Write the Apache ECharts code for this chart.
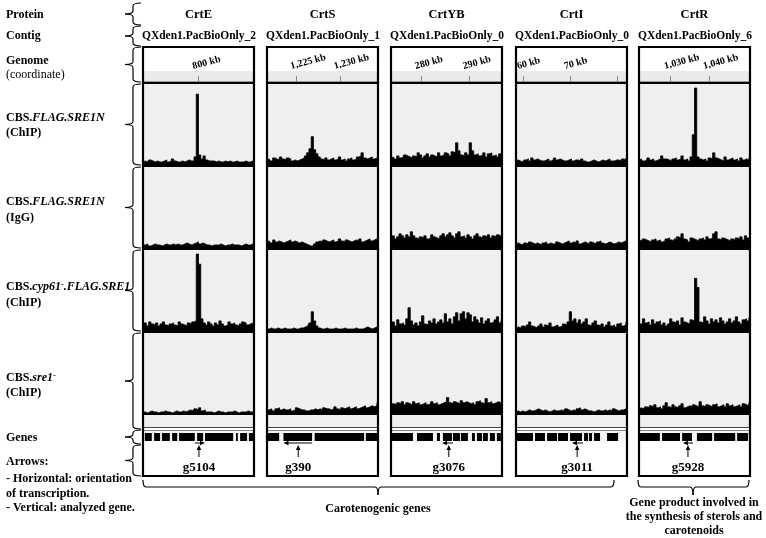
<!DOCTYPE html>
<html><head><meta charset="utf-8">
<script src="https://cdn.jsdelivr.net/npm/echarts@6/dist/echarts.min.js"></script>
<style>html,body{margin:0;padding:0;background:#fff}#c{width:766px;height:538px}</style>
</head><body><div id="c"></div><script>
// ---------------- DATA ----------------
const proteins = ['CrtE','CrtS','CrtYB','CrtI','CrtR'];
const contigs = ['QXden1.PacBioOnly_2','QXden1.PacBioOnly_1','QXden1.PacBioOnly_0','QXden1.PacBioOnly_0','QXden1.PacBioOnly_6'];
const genomeRangeKb = [[788,812],[1221.6,1234.4],[273.75,296.9],[58.5,82.1],[1022.05,1050.5]];
const genomeTicksKb = [[800],[1225,1230],[280,290],[60,70,80],[1030,1040]];
const genomeLabelsKb = [[800],[1225,1230],[280,290],[60,70],[1030,1040]];

// Row 1: CBS.FLAG.SRE1N (ChIP)
const sre1nChIP_CrtE = [3,4,3,5,4,3,4,3,3,4, 5,3,4,6,4,3,3,4,3,4, 5,4,4,8,70,10,6,9,5,4, 4,4,3,4,3,3,4,3,4,3, 3,4,3,3,3,4,3,3,4,4];
const sre1nChIP_CrtS = [5,6,4,7,6,5,8,6,5,7, 6,4,5,4,5,6,7,9,12,16, 28,15,11,8,6,5,7,5,6,7, 5,6,8,5,6,4,6,7,5,6, 8,9,12,7,6,7,8,6,7,8];
const sre1nChIP_CrtYB = [7,8,6,9,7,8,10,9,8,7, 9,8,12,10,7,9,11,8,10,9, 8,12,9,10,12,11,9,13,12,22, 14,10,9,12,10,22,14,10,11,9, 10,12,8,11,12,9,10,8,11,9];
const sre1nChIP_CrtI = [4,5,4,3,5,6,4,7,5,6, 5,4,4,5,6,4,5,7,5,6, 5,4,4,5,6,4,5,5,4,6, 4,3,3,4,5,4,3,4,5,4, 5,6,4,4,5,5,4,6,5,7];
const sre1nChIP_CrtR = [5,6,4,5,7,5,6,4,5,6, 9,6,6,5,4,6,7,5,6,9, 5,6,4,8,30,76,8,6,5,6, 4,7,6,12,7,6,5,4,8,5, 6,7,5,6,4,7,5,6,5,7];
// Row 2: CBS.FLAG.SRE1N (IgG)
const sre1nIgG_CrtE = [3,3,4,2,3,4,3,3,2,3, 4,3,3,4,3,4,3,3,4,5, 4,3,4,5,6,4,5,4,3,3, 2,3,3,3,4,3,2,3,3,4, 3,3,3,2,3,4,3,3,4,5];
const sre1nIgG_CrtS = [6,7,5,8,6,7,6,5,6,7, 8,6,7,6,5,6,5,4,3,2, 2,4,6,7,6,8,7,6,7,8, 6,7,9,7,6,8,7,6,7,8, 7,9,6,7,8,9,7,8,9,10];
const sre1nIgG_CrtYB = [10,12,9,11,14,12,10,13,11,16, 12,10,9,11,10,12,9,10,13,11, 10,9,12,14,11,13,15,12,10,14, 16,11,12,10,13,11,9,12,14,11, 10,12,11,13,10,12,11,13,12,11];
const sre1nIgG_CrtI = [4,5,4,3,5,4,6,5,4,5, 4,3,5,6,4,5,4,4,6,5, 4,5,6,7,5,6,5,7,4,5, 6,5,4,6,5,4,6,7,5,4, 5,6,5,4,5,6,5,6,7,6];
const sre1nIgG_CrtR = [8,7,9,8,7,6,8,9,7,8, 6,7,9,10,8,7,9,11,10,14, 9,8,6,10,9,8,7,9,10,8, 11,9,10,14,16,9,8,10,9,8, 7,9,8,10,9,11,8,12,10,9];
// Row 3: CBS.cyp61-.FLAG.SRE1 (ChIP)
const cyp61ChIP_CrtE = [6,8,5,9,7,6,8,5,7,9, 6,5,7,8,6,5,9,7,6,5, 8,7,9,10,76,66,12,8,6,9, 7,5,8,6,10,7,5,6,9,7, 8,6,5,7,9,8,6,7,8,9];
const cyp61ChIP_CrtS = [2,2,3,2,2,3,2,2,3,2, 2,2,3,2,2,3,3,4,5,8, 19,10,5,3,2,2,3,2,2,2, 3,2,2,2,3,2,2,2,2,3, 2,2,2,3,4,3,2,3,4,5];
const cyp61ChIP_CrtYB = [6,9,5,11,7,8,6,12,23,10, 6,8,5,9,15,7,6,10,8,12, 7,9,11,8,17,9,12,7,14,18, 10,17,19,12,18,16,9,14,11,8, 13,7,10,12,8,9,11,14,8,10];
const cyp61ChIP_CrtI = [3,4,3,5,4,6,9,5,4,3, 5,7,4,6,5,8,4,5,6,4, 5,7,6,9,19,10,12,8,11,7, 9,12,6,5,8,10,6,5,7,4, 6,9,5,6,4,7,8,5,6,9];
const cyp61ChIP_CrtR = [10,7,12,8,9,6,11,7,9,10, 6,8,5,7,12,9,8,10,6,13, 9,8,7,11,10,52,43,9,8,14, 10,7,12,9,11,8,13,10,7,9, 12,8,10,14,9,7,11,12,10,13];
// Row 4: CBS.sre1- (ChIP)
const sre1ChIP_CrtE = [3,3,2,3,4,3,3,2,3,3, 4,3,3,2,3,4,3,3,4,3, 4,5,4,6,5,7,4,5,3,3, 3,2,3,4,3,3,2,3,3,3, 4,3,2,3,3,3,4,3,3,4];
const sre1ChIP_CrtS = [5,5,6,4,6,7,5,6,5,5, 6,4,5,7,6,5,5,4,4,5, 5,6,5,6,5,7,6,6,5,6, 8,6,5,7,6,7,8,6,7,8, 6,7,8,9,7,8,9,8,9,12];
const sre1ChIP_CrtYB = [9,11,10,12,11,13,10,12,11,10, 13,11,12,10,11,12,10,11,13,11, 12,10,11,12,13,17,12,11,13,12, 11,14,12,13,12,11,12,10,13,14, 12,11,16,12,13,11,12,13,12,11];
const sre1ChIP_CrtI = [3,4,3,4,3,4,5,4,4,5, 6,5,4,5,4,3,4,5,4,4, 5,4,6,5,4,5,4,6,7,5, 6,5,4,4,3,4,5,4,4,5, 4,5,4,6,5,4,5,5,6,7];
const sre1ChIP_CrtR = [6,7,6,8,7,9,8,10,7,8, 6,9,12,8,7,10,8,7,9,11, 7,8,9,8,10,9,8,13,9,8, 10,9,8,10,11,8,9,10,8,11, 9,10,8,9,10,8,11,10,9,12];

// Genes (start, end in kb)
const genesCrtE = [[788.4,789.9],[790.4,791.7],[792.1,793.8],[794.3,795.4],[795.8,799.2],[799.7,801.0],[801.4,807.5],[808.1,808.5],[809.0,810.5],[810.9,812.0]];
const genesCrtS = [[1221.6,1223.0],[1223.5,1226.8],[1227.1,1232.8],[1233.0,1234.4]];
const genesCrtYB = [[273.96,278.33],[279.17,282.5],[283.33,283.96],[284.58,286.46],[286.67,288.13],[288.33,289.79],[290.63,291.25],[291.67,292.71],[292.92,293.96],[294.38,295.42],[295.83,296.67]];
const genesCrtI = [[58.71,62.12],[62.54,64.67],[65.1,67.22],[67.44,69.56],[69.99,72.54],[72.97,73.82],[74.03,74.67],[75.1,76.37],[77.86,80.2]];
const genesCrtR = [[1022.3,1027.4],[1027.95,1032.56],[1033.1,1035.64],[1036.9,1040.8],[1041.3,1046.7],[1047.2,1050.0]];
// Arrows: transcription orientation (from -> to) and analyzed gene position, kb
const arrowFromKb = [799.2, 1226.8, 286.67, 72.75, 1035.9];
const arrowToKb = [801.4, 1223.5, 284.4, 70.4, 1033.3];
const targetKb = [800.1, 1225.2, 285.8, 71.5, 1034.6];
const geneIds = ['g5104','g390','g3076','g3011','g5928'];

// ---------------- ASSEMBLY ----------------
const signals = [
  [sre1nChIP_CrtE, sre1nChIP_CrtS, sre1nChIP_CrtYB, sre1nChIP_CrtI, sre1nChIP_CrtR],
  [sre1nIgG_CrtE, sre1nIgG_CrtS, sre1nIgG_CrtYB, sre1nIgG_CrtI, sre1nIgG_CrtR],
  [cyp61ChIP_CrtE, cyp61ChIP_CrtS, cyp61ChIP_CrtYB, cyp61ChIP_CrtI, cyp61ChIP_CrtR],
  [sre1ChIP_CrtE, sre1ChIP_CrtS, sre1ChIP_CrtYB, sre1ChIP_CrtI, sre1ChIP_CrtR]
];
const genes = [genesCrtE, genesCrtS, genesCrtYB, genesCrtI, genesCrtR];

const FF = '"Liberation Serif","Times New Roman",serif';
const PL = [143, 267, 391, 516, 639], PW = 111;
const FRAME_TOP = 47, FRAME_BOT = 476;
const rowTop = [84, 167, 250, 333], rowH = [81, 81, 81, 82];

const grid = [], xAxis = [], yAxis = [], series = [];
function addGrid(g, x, y) {
  grid.push(g);
  const i = grid.length - 1;
  x.gridIndex = i; y.gridIndex = i;
  xAxis.push(x); yAxis.push(y);
  return i;
}
const commas = v => String(v).replace(/\B(?=(\d{3})+(?!\d))/g, ',');

// genome coordinate axes
for (let c = 0; c < 5; c++) {
  addGrid({ left: PL[c], top: 77, width: PW, height: 5 },
    { type: 'value', min: genomeRangeKb[c][0], max: genomeRangeKb[c][1], position: 'top',
      axisLine: { show: true, lineStyle: { color: '#9a9a9a', width: 2 } },
      axisTick: { show: true, customValues: genomeTicksKb[c], length: 6, lineStyle: { color: '#888', width: 1 } },
      axisLabel: { show: true, customValues: genomeLabelsKb[c], rotate: 15, margin: 12, align: 'center', verticalAlign: 'middle',
        formatter: v => { const s = commas(v) + ' kb'; return '{h|' + s + '}{t|' + s + '}{q| }'; },
        rich: {
          h: { fontFamily: FF, fontWeight: 'bold', fontSize: 10, color: 'rgba(0,0,0,0)' },
          t: { fontFamily: FF, fontWeight: 'bold', fontSize: 10, color: '#000' },
          q: { fontSize: 10, width: 12 }
        } },
      splitLine: { show: false } },
    { type: 'value', show: false, min: 0, max: 1 });
}

// signal tracks (filled step profiles)
for (let r = 0; r < 4; r++) {
  for (let c = 0; c < 5; c++) {
    const d = signals[r][c];
    const i = addGrid({ left: PL[c], top: rowTop[r], width: PW, height: rowH[r] },
      { type: 'category', data: d.map((_, k) => k), show: false, boundaryGap: false },
      { type: 'value', min: 0, max: 80, show: false });
    series.push({ type: 'line', xAxisIndex: i, yAxisIndex: i, data: d, step: 'middle', symbol: 'none',
      lineStyle: { color: '#000', width: 0.8 }, areaStyle: { color: '#000', opacity: 1 }, silent: true });
  }
}

// gene tracks
function renderGene(params, api) {
  const cs = params.coordSys;
  const s = api.coord([api.value(0), 0])[0];
  const e = api.coord([api.value(1), 0])[0];
  return { type: 'rect', shape: { x: s, y: cs.y + 7, width: Math.max(1, e - s), height: 8 }, style: { fill: '#000' } };
}
function makeArrow(c) {
  return function (params, api) {
    const cs = params.coordSys;
    const a = api.coord([api.value(0), 0])[0];
    const b = api.coord([api.value(1), 0])[0];
    const t = api.coord([api.value(2), 0])[0];
    const yH = cs.y + 17, dir = b > a ? 1 : -1;
    return { type: 'group', children: [
      { type: 'line', shape: { x1: a, y1: yH, x2: b - dir * 2, y2: yH }, style: { stroke: '#000', lineWidth: 1 } },
      { type: 'polygon', shape: { points: [[b, yH], [b - dir * 5, yH - 2.2], [b - dir * 5, yH + 2.2]] }, style: { fill: '#000' } },
      { type: 'line', shape: { x1: t, y1: cs.y + 31, x2: t, y2: cs.y + 21 }, style: { stroke: '#000', lineWidth: 1 } },
      { type: 'polygon', shape: { points: [[t, cs.y + 19], [t - 2.3, cs.y + 24], [t + 2.3, cs.y + 24]] }, style: { fill: '#000' } },
      { type: 'text', style: { text: geneIds[c], x: t, y: cs.y + 42, align: 'center', verticalAlign: 'middle',
        font: 'bold 13px ' + FF, fill: '#000' } }
    ] };
  };
}
for (let c = 0; c < 5; c++) {
  const i = addGrid({ left: PL[c], top: 426, width: PW, height: 50 },
    { type: 'value', min: genomeRangeKb[c][0], max: genomeRangeKb[c][1], show: false },
    { type: 'value', min: 0, max: 1, show: false });
  series.push({ type: 'custom', xAxisIndex: i, yAxisIndex: i, renderItem: renderGene, data: genes[c], clip: false,
    encode: { x: [0, 1] }, silent: true, z: 5 });
  series.push({ type: 'custom', xAxisIndex: i, yAxisIndex: i, renderItem: makeArrow(c),
    data: [[arrowFromKb[c], arrowToKb[c], targetKb[c]]], clip: false, encode: { x: [0, 1, 2] }, silent: true, z: 5 });
}

// ---------------- DECORATION ----------------
const els = [];
for (let c = 0; c < 5; c++) {
  const x = PL[c];
  els.push({ type: 'rect', z: 0, shape: { x: x, y: 71, width: PW, height: 11 }, style: { fill: '#eaeaea' } });
  els.push({ type: 'rect', z: 0, shape: { x: x, y: 84, width: PW, height: 343 }, style: { fill: '#efefef' } });
  els.push({ type: 'rect', z: 0, shape: { x: x, y: 431, width: PW, height: 10 }, style: { fill: '#f5f5f5' } });
  els.push({ type: 'line', z: 40, shape: { x1: x, y1: 427.5, x2: x + PW, y2: 427.5 }, style: { stroke: '#444', lineWidth: 1 } });
  els.push({ type: 'line', z: 40, shape: { x1: x, y1: 430.5, x2: x + PW, y2: 430.5 }, style: { stroke: '#888', lineWidth: 1 } });
  [83, 166, 249, 332].forEach(y => els.push({ type: 'line', z: 50, shape: { x1: x, y1: y, x2: x + PW, y2: y }, style: { stroke: '#000', lineWidth: 2 } }));
  els.push({ type: 'rect', z: 60, shape: { x: x, y: FRAME_TOP, width: PW, height: FRAME_BOT - FRAME_TOP }, style: { fill: 'none', stroke: '#000', lineWidth: 2.2 } });
  els.push({ type: 'text', z: 60, x: x + PW / 2, y: 15, style: { text: proteins[c], font: 'bold 12.5px ' + FF, fill: '#000', align: 'center', verticalAlign: 'middle' } });
  els.push({ type: 'text', z: 60, x: x + PW / 2 + 0.5, y: 36, style: { text: contigs[c], font: 'bold 11.5px ' + FF, fill: '#000', align: 'center', verticalAlign: 'middle' } });
}
// braces built from lines and quadratic curves
const BS = { stroke: '#000', lineWidth: 1.2, fill: 'none' };
function seg(x1, y1, x2, y2) { els.push({ type: 'line', z: 60, shape: { x1, y1, x2, y2 }, style: BS }); }
function crv(x1, y1, cx, cy, x2, y2) { els.push({ type: 'bezierCurve', z: 60, shape: { x1, y1, x2, y2, cpx1: cx, cpy1: cy }, style: BS }); }
function vBrace(x, y1, y2) {
  const ym = (y1 + y2) / 2, h = 8, n = 8, r = 3;
  crv(x + h, y1, x, y1, x, y1 + r);
  seg(x, y1 + r, x, ym - r);
  crv(x, ym - r, x, ym, x - n, ym);
  crv(x - n, ym, x, ym, x, ym + r);
  seg(x, ym + r, x, y2 - r);
  crv(x, y2 - r, x, y2, x + h, y2);
}
function hBrace(x1, x2, y, xm) {
  const h = 7, n = 8, r = 3;
  crv(x1, y - h, x1, y, x1 + r, y);
  seg(x1 + r, y, xm - r, y);
  crv(xm - r, y, xm, y, xm, y + n);
  crv(xm, y + n, xm, y, xm + r, y);
  seg(xm + r, y, x2 - r, y);
  crv(x2 - r, y, x2, y, x2, y - h);
}
[[3, 25], [26, 46], [47, 82], [84, 165], [167, 248], [250, 331], [333, 429], [430, 444], [445, 476]].forEach(b => vBrace(133, b[0], b[1]));
hBrace(143, 614, 487, 378);
hBrace(638, 749, 487, 693);

const tok = (o) => Object.assign({ fontFamily: FF, fontSize: 12, fontWeight: 'bold', fontStyle: 'normal', fill: '#000' }, o);
const RICH = { b: tok({}), i: tok({ fontStyle: 'italic' }), n: tok({ fontWeight: 'normal' }), s: tok({ fontSize: 8, verticalAlign: 'top' }) };
function L(y, text, align, cx) {
  els.push({ type: 'text', z: 60, x: align === 'center' ? cx : 6, y: y,
    style: { text: text, rich: RICH, font: 'bold 12px ' + FF, fill: '#000', align: align || 'left', verticalAlign: 'middle' } });
}
L(15, '{b|Protein}');
L(36, '{b|Contig}');
L(61, '{b|Genome}');
L(75, '{n|(coordinate)}');
L(118, '{b|CBS.}{i|FLAG.SRE1N}');
L(133, '{b|(ChIP)}');
L(202, '{b|CBS.}{i|FLAG.SRE1N}');
L(218, '{b|(IgG)}');
L(287, '{b|CBS.}{i|cyp61}{s|-}{i|.FLAG.SRE1}');
L(303, '{b|(ChIP)}');
L(378, '{b|CBS.}{i|sre1}{s|-}');
L(393, '{b|(ChIP)}');
L(438, '{b|Genes}');
L(462, '{b|Arrows:}');
L(479, '{b|- Horizontal: orientation}');
L(494, '{b|of transcription.}');
L(508, '{b|- Vertical: analyzed gene.}');
L(509, '{b|Carotenogenic genes}', 'center', 378);
L(503, '{b|Gene product involved in}', 'center', 694);
L(517, '{b|the synthesis of sterols and}', 'center', 694);
L(531, '{b|carotenoids}', 'center', 694);

const chart = echarts.init(document.getElementById('c'), null, { renderer: 'canvas' });
chart.setOption({ animation: false, backgroundColor: '#fff', grid, xAxis, yAxis, series, graphic: { elements: els } });
</script></body></html>
